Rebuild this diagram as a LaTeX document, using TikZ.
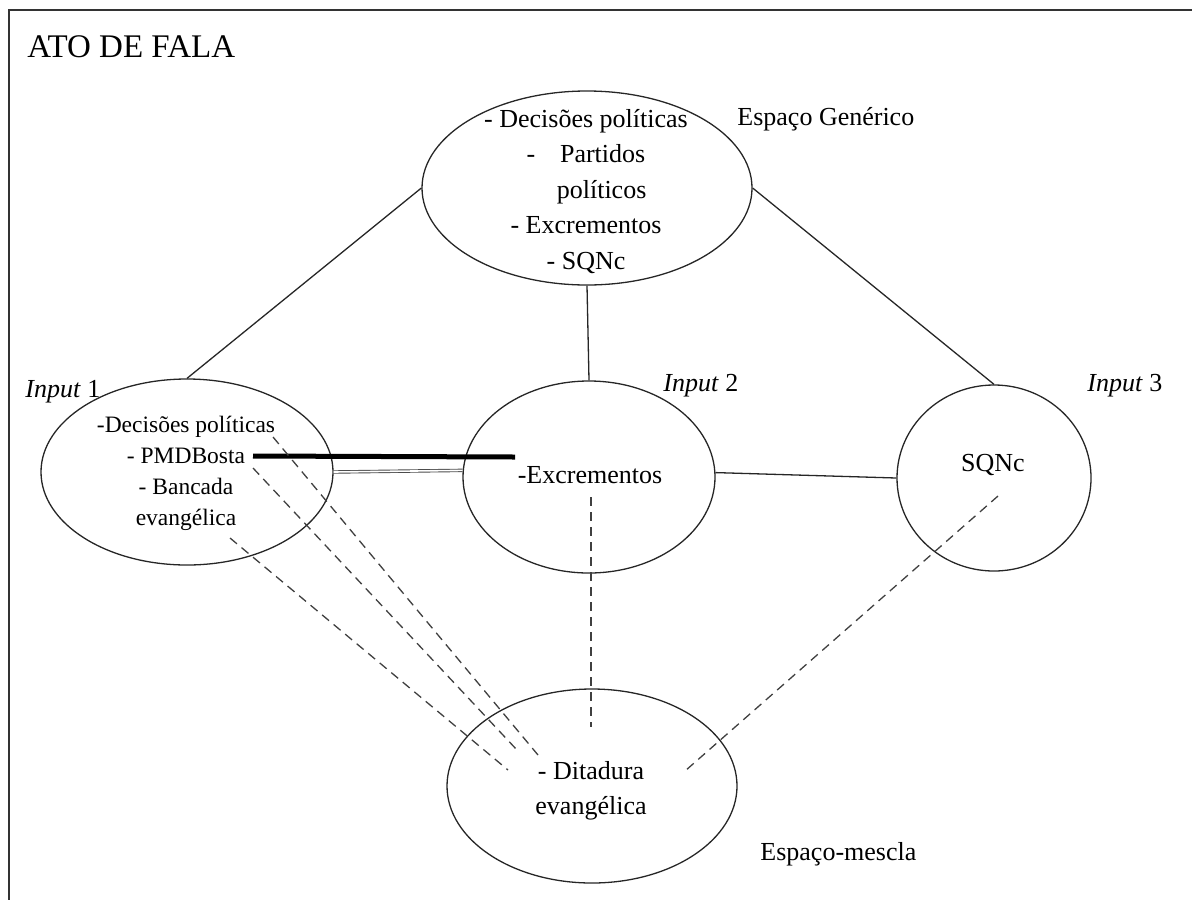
\documentclass[tikz,border=0pt]{standalone}
\usepackage{fontspec}
\setmainfont{Liberation Serif}
\usetikzlibrary{shapes.geometric}
\begin{document}
\begin{tikzpicture}[x=0.5pt,y=-0.5pt,
  space/.style={draw=black!85, line width=0.65pt, ellipse, inner sep=0pt},
  txt/.style={inner sep=0pt, font=\fontsize{13}{17.75}\selectfont, align=center},
  lbl/.style={inner sep=0pt, font=\fontsize{13}{16}\selectfont, anchor=base west},
  link/.style={draw=black!85, line width=0.65pt},
  proj/.style={draw=black!75, line width=0.65pt, dash pattern=on 4.5pt off 3pt},
  strong/.style={draw=black, line width=2.5pt},
  twin/.style={draw=black!70, double=white, double distance=0.8pt, line width=0.45pt}
]
\useasboundingbox (0,0) rectangle (1192,900);

% open frame: top and left edges only
\draw[line width=1pt, black!80] (1192,10) -- (9,10) -- (9,900);

\node[lbl, font=\fontsize{16.5}{20}\selectfont] (title) at (27,57) {ATO DE FALA};

% mental spaces
\node[space, minimum width=165pt, minimum height=97pt] (G)  at (587,188) {};
\node[space, minimum width=146pt, minimum height=93pt] (I1) at (187,472) {};
\node[space, minimum width=126pt, minimum height=96pt] (I2) at (589,477) {};
\node[space, minimum width=97pt,  minimum height=93pt] (I3) at (994,478) {};
\node[space, minimum width=145pt, minimum height=97pt] (B)  at (592,786) {};

% contents
\node[txt] (tG) at (586,191.5) {- Decisões políticas\\-\hspace{0.95em}Partidos\\\hspace*{1.2em}políticos\\- Excrementos\\- SQNc};
\node[txt, font=\fontsize{11.75}{15.5}\selectfont] (tI1) at (186,473) {-Decisões políticas\\- PMDBosta\\- Bancada\\evangélica};
\node[txt, anchor=base] (tI2) at (590,483) {-Excrementos};
\node[txt, anchor=base] (tI3) at (993,471) {SQNc};
\node[txt] (tB) at (591,791) {- Ditadura\\evangélica};

% space labels
\node[lbl] (lgen) at (737,125) {Espaço Genérico};
\node[lbl] (lmix) at (760,860) {Espaço-mescla};
\node[lbl] (lin1) at (25,397)  {\textit{Input} 1};
\node[lbl] (lin2) at (663,391) {\textit{Input} 2};
\node[lbl] (lin3) at (1087,391) {\textit{Input} 3};

% generic space to inputs
\draw[link] (G.west) -- (I1.north);
\draw[link] (G.east) -- (I3.north);
\draw[link] (G.south) -- (I2.north);

% cross-space links
\draw[twin] (I1.east) -- (I2.177);
\draw[link] (I2.2) -- (I3.west);

\coordinate (k1) at (253,456);
\coordinate (k2) at (515,457);
\draw[strong] (k1) -- (k2);

% projections into the blend
\coordinate (p1a) at (273,437); \coordinate (p1b) at (538,755);
\coordinate (p2a) at (253,468); \coordinate (p2b) at (517,750);
\coordinate (p3a) at (230,538); \coordinate (p3b) at (508,770);
\coordinate (p4a) at (591,497); \coordinate (p4b) at (591,727);
\coordinate (p5a) at (998,496); \coordinate (p5b) at (685,771);
\draw[proj] (p1a) -- (p1b);
\draw[proj] (p2a) -- (p2b);
\draw[proj] (p3a) -- (p3b);
\draw[proj] (p4a) -- (p4b);
\draw[proj] (p5a) -- (p5b);
\end{tikzpicture}
\end{document}
